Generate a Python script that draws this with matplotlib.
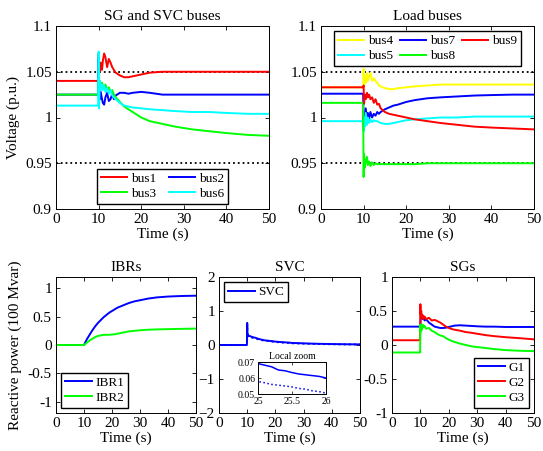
import matplotlib
matplotlib.use("Agg")
import matplotlib.pyplot as plt

plt.rcParams['font.family'] = ['Liberation Serif', 'DejaVu Serif']
plt.rcParams['font.size'] = 11
plt.rcParams['mathtext.fontset'] = 'stix'

# ---------------- data ----------------
t_v = [0, 9.9, 10.0, 10.1, 10.3, 10.5, 10.8, 11.0, 11.3, 11.6, 12.0, 12.4, 12.8, 13.2, 13.6,
       14, 15, 16, 17, 18, 20, 22, 25, 28, 32, 36, 40, 45, 50]

bus1 = [1.04, 1.04, 1.07, 1.055, 1.05, 1.06, 1.052, 1.062, 1.07, 1.066, 1.055, 1.064, 1.06, 1.055, 1.052,
        1.049, 1.046, 1.044, 1.044, 1.045, 1.047, 1.049, 1.05, 1.05, 1.05, 1.05, 1.05, 1.05, 1.05]
bus2 = [1.025, 1.025, 1.065, 1.03, 1.02, 1.028, 1.02, 1.016, 1.014, 1.022, 1.027, 1.018, 1.02, 1.026, 1.02,
        1.024, 1.027, 1.027, 1.026, 1.027, 1.028, 1.027, 1.025, 1.025, 1.025, 1.025, 1.025, 1.025, 1.025]
bus3 = [1.025, 1.025, 1.042, 1.035, 1.04, 1.033, 1.038, 1.035, 1.032, 1.036, 1.03, 1.033, 1.028, 1.03, 1.025,
        1.022, 1.017, 1.012, 1.009, 1.006, 1.0, 0.996, 0.993, 0.99, 0.987, 0.985, 0.983, 0.981, 0.98]
bus6 = [1.013, 1.013, 1.072, 1.01, 1.04, 1.03, 1.036, 1.03, 1.035, 1.028, 1.032, 1.026, 1.03, 1.024, 1.022,
        1.02, 1.016, 1.013, 1.012, 1.011, 1.01, 1.009, 1.008, 1.007, 1.006, 1.006, 1.005, 1.004, 1.004]

bus4 = [1.033, 1.033, 1.053, 1.035, 1.045, 1.038, 1.048, 1.04, 1.045, 1.049, 1.04, 1.043, 1.04, 1.038, 1.035,
        1.034, 1.032, 1.031, 1.031, 1.032, 1.033, 1.034, 1.035, 1.036, 1.036, 1.036, 1.036, 1.036, 1.036]
bus7 = [1.026, 1.026, 0.99, 1.005, 0.995, 1.01, 0.998, 1.005, 0.999, 1.006, 1.0, 1.004, 1.002, 1.006, 1.004,
        1.006, 1.009, 1.011, 1.013, 1.014, 1.017, 1.019, 1.021, 1.022, 1.023, 1.024, 1.0245, 1.025, 1.025]
bus9 = [1.033, 1.033, 1.035, 1.015, 1.025, 1.02, 1.027, 1.022, 1.025, 1.02, 1.022, 1.016, 1.02, 1.014, 1.015,
        1.01, 1.006, 1.004, 1.003, 1.002, 1.0, 0.998, 0.996, 0.994, 0.992, 0.99, 0.989, 0.988, 0.987]
bus5 = [0.996, 0.996, 0.985, 1.0, 0.99, 1.005, 0.992, 1.0, 0.994, 0.998, 0.995, 0.997, 0.996, 0.996, 0.995,
        0.994, 0.993, 0.993, 0.994, 0.995, 0.997, 0.998, 0.999, 1.0, 1.0, 1.001, 1.001, 1.001, 1.001]
bus8 = [1.016, 1.016, 0.935, 0.96, 0.945, 0.952, 0.957, 0.948, 0.952, 0.947, 0.951, 0.948, 0.95, 0.949, 0.949,
        0.949, 0.949, 0.949, 0.949, 0.949, 0.949, 0.949, 0.95, 0.95, 0.95, 0.95, 0.95, 0.95, 0.95]

v_limits = [0.95, 1.05]

t_q = [0, 9.9, 10.0, 10.1, 10.3, 10.5, 10.8, 11, 11.5, 12, 13, 14, 15, 16, 17, 18, 19, 20, 21, 22,
       24, 26, 28, 30, 33, 36, 40, 45, 50]

ibr1 = [0, 0, 0.0, 0.01, 0.03, 0.05, 0.08, 0.1, 0.14, 0.18, 0.26, 0.33, 0.39, 0.44, 0.49, 0.53, 0.57, 0.6,
        0.63, 0.66, 0.7, 0.74, 0.77, 0.79, 0.82, 0.84, 0.855, 0.865, 0.87]
ibr2 = [0, 0, 0.0, 0.005, 0.01, 0.02, 0.03, 0.04, 0.06, 0.08, 0.11, 0.14, 0.16, 0.17, 0.18, 0.18, 0.18, 0.185,
        0.19, 0.2, 0.22, 0.24, 0.25, 0.26, 0.27, 0.275, 0.28, 0.285, 0.29]

g1 = [0.27, 0.27, 0.2, 0.5, 0.42, 0.45, 0.38, 0.4, 0.36, 0.38, 0.33, 0.3, 0.27, 0.26, 0.25, 0.25, 0.255, 0.265,
      0.275, 0.285, 0.29, 0.285, 0.28, 0.275, 0.27, 0.27, 0.265, 0.265, 0.265]
g2 = [0.07, 0.07, 0.6, 0.45, 0.5, 0.4, 0.44, 0.38, 0.42, 0.38, 0.4, 0.36, 0.37, 0.35, 0.33, 0.3, 0.27, 0.25,
      0.235, 0.225, 0.21, 0.19, 0.18, 0.165, 0.145, 0.13, 0.115, 0.1, 0.083]
g3 = [-0.11, -0.11, 0.3, 0.2, 0.28, 0.22, 0.3, 0.26, 0.28, 0.24, 0.25, 0.21, 0.19, 0.16, 0.14, 0.13, 0.1, 0.08,
      0.06, 0.045, 0.02, 0.0, -0.02, -0.03, -0.045, -0.06, -0.075, -0.085, -0.09]

t_svc = [0, 9.9, 10.0, 10.1, 10.3, 10.5, 11, 12, 13, 14, 15, 16, 17, 18, 20, 22, 24,
         25, 25.1, 25.2, 25.3, 25.4, 25.5, 25.6, 25.7, 25.8, 25.9, 26, 28, 30, 33, 36, 40, 45, 50]
svc = [0, 0, 0.65, 0.25, 0.3, 0.27, 0.26, 0.23, 0.21, 0.18, 0.16, 0.14, 0.13, 0.12, 0.1, 0.085, 0.075,
       0.069, 0.068, 0.067, 0.065, 0.0645, 0.0634, 0.0625, 0.062, 0.0615, 0.061, 0.060,
       0.055, 0.048, 0.04, 0.034, 0.028, 0.022, 0.018]
svc_ref = [0, 0, 0.6, 0.22, 0.27, 0.25, 0.24, 0.21, 0.19, 0.165, 0.145, 0.13, 0.12, 0.11, 0.09, 0.075, 0.065,
           0.0578, 0.057, 0.056, 0.0555, 0.055, 0.0544, 0.0535, 0.053, 0.052, 0.0515, 0.0505,
           0.045, 0.04, 0.033, 0.028, 0.022, 0.017, 0.014]

xticks = [0, 10, 20, 30, 40, 50]

# ---------------- figure ----------------
W, H = 543, 451
fig = plt.figure(figsize=(W / 100, H / 100), dpi=100)

FS = 11


def make_ax(l, r, t, b):
    return fig.add_axes([l / W, (H - b) / H, (r - l) / W, (b - t) / H])


def style(ax):
    ax.tick_params(direction='in', top=True, right=True, length=3, width=0.6, labelsize=FS, pad=3)
    for s in ax.spines.values():
        s.set_linewidth(0.7)
    ax.set_xlim(0, 50)
    ax.set_xticks(xticks)


lw = 1.4
RED, BLUE, GREEN, CYAN, YEL = '#ff0000', '#0000ff', '#00ff00', '#00ffff', '#ffff00'

leg_kw = dict(frameon=True, fancybox=False, framealpha=1, edgecolor='black', fontsize=9.5,
              handlelength=2.0, borderpad=0.3, labelspacing=0.2, handletextpad=0.3,
              borderaxespad=0.4)

# --- top-left ---
ax1 = make_ax(56, 269, 26, 209)
style(ax1)
for y in v_limits:
    ax1.axhline(y, color='black', ls=':', lw=1.3)
l1, = ax1.plot(t_v, bus1, color=RED, lw=lw)
l2, = ax1.plot(t_v, bus2, color=BLUE, lw=lw)
l3, = ax1.plot(t_v, bus3, color=GREEN, lw=lw)
l6, = ax1.plot(t_v, bus6, color=CYAN, lw=lw)
ax1.set_ylim(0.9, 1.1)
ax1.set_yticks([0.9, 0.95, 1.0, 1.05, 1.1])
ax1.set_yticklabels(['0.9', '0.95', '1', '1.05', '1.1'])
ax1.set_title('SG and SVC buses', fontsize=FS, pad=4)
ax1.set_ylabel('Voltage (p.u.)', fontsize=FS)
ax1.set_xlabel('Time (s)', fontsize=FS, labelpad=1)
ax1.legend([l1, l3, l2, l6], ['bus1', 'bus3', 'bus2', 'bus6'], ncol=2, loc='lower center',
           columnspacing=0.9, **leg_kw)

# --- top-right ---
ax2 = make_ax(321, 534, 26, 209)
style(ax2)
for y in v_limits:
    ax2.axhline(y, color='black', ls=':', lw=1.3)
k4, = ax2.plot(t_v, bus4, color=YEL, lw=lw)
k7, = ax2.plot(t_v, bus7, color=BLUE, lw=lw)
k5, = ax2.plot(t_v, bus5, color=CYAN, lw=lw)
k8, = ax2.plot(t_v, bus8, color=GREEN, lw=lw)
k9, = ax2.plot(t_v, bus9, color=RED, lw=lw)
ax2.set_ylim(0.9, 1.1)
ax2.set_yticks([0.9, 0.95, 1.0, 1.05, 1.1])
ax2.set_yticklabels(['0.9', '0.95', '1', '1.05', '1.1'])
ax2.set_title('Load buses', fontsize=FS, pad=4)
ax2.set_xlabel('Time (s)', fontsize=FS, labelpad=1)
ax2.legend([k4, k5, k7, k8, k9], ['bus4', 'bus5', 'bus7', 'bus8', 'bus9'], ncol=3, loc='upper center',
           columnspacing=0.5, **leg_kw)

# --- bottom-left: IBRs ---
ax3 = make_ax(56, 196, 277, 413)
style(ax3)
i1, = ax3.plot(t_q, ibr1, color=BLUE, lw=lw)
i2, = ax3.plot(t_q, ibr2, color=GREEN, lw=lw)
ax3.set_ylim(-1.2, 1.2)
ax3.set_yticks([-1, -0.5, 0, 0.5, 1])
ax3.set_yticklabels(['-1', '-0.5', '0', '0.5', '1'])
ax3.set_title('IBRs', fontsize=FS, pad=4)
ax3.set_ylabel('Reactive power (100 Mvar)', fontsize=FS)
ax3.set_xlabel('Time (s)', fontsize=FS, labelpad=1)
ax3.legend([i1, i2], ['IBR1', 'IBR2'], loc='lower left', **leg_kw)

# --- bottom-middle: SVC ---
ax4 = make_ax(219, 360, 277, 413)
style(ax4)
s1, = ax4.plot(t_svc, svc, color=BLUE, lw=lw)
ax4.plot(t_svc, svc_ref, color=BLUE, lw=lw, ls=':')
ax4.set_ylim(-2, 2)
ax4.set_yticks([-2, -1, 0, 1, 2])
ax4.set_title('SVC', fontsize=FS, pad=4)
ax4.set_xlabel('Time (s)', fontsize=FS, labelpad=1)
ax4.legend([s1], ['SVC'], loc='upper left', **leg_kw)

axin = make_ax(258, 326, 362, 394)
axin.plot(t_svc, svc, color=BLUE, lw=1.1)
axin.plot(t_svc, svc_ref, color=BLUE, lw=1.1, ls=':')
axin.set_xlim(25, 26)
axin.set_ylim(0.05, 0.07)
axin.set_xticks([25, 25.5, 26])
axin.set_xticklabels(['25', '25.5', '26'])
axin.set_yticks([0.05, 0.06, 0.07])
axin.set_yticklabels(['0.05', '0.06', '0.07'])
axin.tick_params(direction='in', top=True, right=True, length=2, width=0.5, labelsize=7, pad=2)
for s in axin.spines.values():
    s.set_linewidth(0.7)
axin.set_title('Local zoom', fontsize=7, pad=2)

# --- bottom-right: SGs ---
ax5 = make_ax(392, 534, 277, 413)
style(ax5)
h1, = ax5.plot(t_q, g1, color=BLUE, lw=lw)
h2, = ax5.plot(t_q, g2, color=RED, lw=lw)
h3, = ax5.plot(t_q, g3, color=GREEN, lw=lw)
ax5.set_ylim(-1, 1)
ax5.set_yticks([-1, -0.5, 0, 0.5, 1])
ax5.set_yticklabels(['-1', '-0.5', '0', '0.5', '1'])
ax5.set_title('SGs', fontsize=FS, pad=4)
ax5.set_xlabel('Time (s)', fontsize=FS, labelpad=1)
ax5.legend([h1, h2, h3], ['G1', 'G2', 'G3'], loc='lower right', **leg_kw)

fig.savefig('out.png', dpi=100)
